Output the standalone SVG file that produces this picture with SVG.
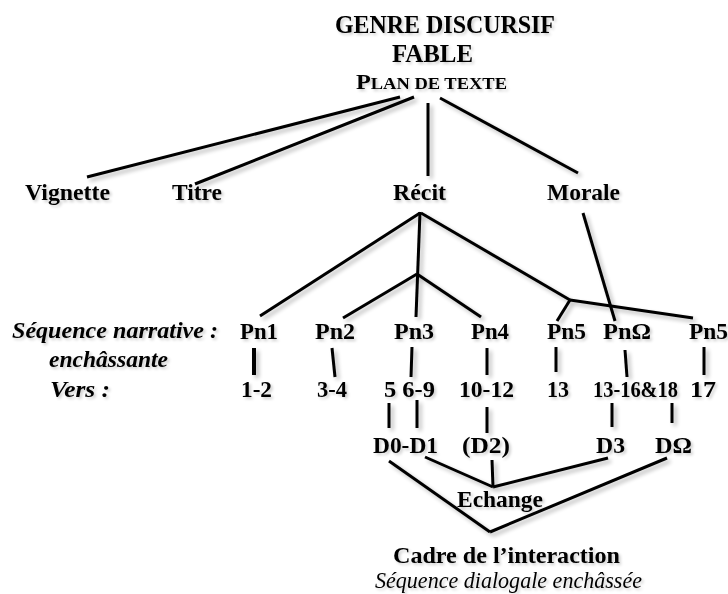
<svg xmlns="http://www.w3.org/2000/svg" width="728" height="594" viewBox="0 0 728 594">
<defs>
<filter id="sh" x="-5%" y="-5%" width="115%" height="115%">
<feGaussianBlur in="SourceAlpha" stdDeviation="2"/>
<feOffset dx="3" dy="3" result="b"/>
<feComponentTransfer><feFuncA type="linear" slope="0.28"/></feComponentTransfer>
<feMerge><feMergeNode/><feMergeNode in="SourceGraphic"/></feMerge>
</filter>
<filter id="tsh" x="-5%" y="-20%" width="115%" height="150%">
<feGaussianBlur in="SourceAlpha" stdDeviation="1.5"/>
<feOffset dx="2" dy="2"/>
<feComponentTransfer><feFuncA type="linear" slope="0.2"/></feComponentTransfer>
<feMerge><feMergeNode/><feMergeNode in="SourceGraphic"/></feMerge>
</filter>
</defs>
<style>
text{font-family:"Liberation Serif","Times New Roman",serif;font-weight:bold;font-size:24px;fill:#000}
.it{font-style:italic}
.itn{font-style:italic;font-weight:normal}
.t{font-size:25px}
#connectors line{stroke:#000;stroke-width:3;fill:none;stroke-linecap:butt}
</style>
<rect width="728" height="594" fill="#fff"/>
<g id="connectors" filter="url(#sh)">
<line x1="400" y1="97" x2="87" y2="177"/>
<line x1="414" y1="97" x2="195" y2="184"/>
<line x1="428" y1="103" x2="428" y2="176"/>
<line x1="440" y1="98" x2="578" y2="173"/>
<line x1="420" y1="212" x2="416" y2="317"/>
<line x1="420" y1="213" x2="260" y2="316"/>
<line x1="421" y1="213" x2="570" y2="300"/>
<line x1="417" y1="274" x2="343" y2="318"/>
<line x1="417" y1="274" x2="481" y2="317"/>
<line x1="570" y1="300" x2="693" y2="318"/>
<line x1="570" y1="300" x2="557" y2="321"/>
<line x1="583" y1="213" x2="615" y2="321"/>
<line x1="254" y1="348" x2="254" y2="375" style="stroke-width:4"/>
<line x1="332" y1="348" x2="335" y2="377"/>
<line x1="412" y1="347" x2="411" y2="377"/>
<line x1="487" y1="348" x2="487" y2="375"/>
<line x1="556" y1="347" x2="556" y2="372"/>
<line x1="625" y1="350" x2="627" y2="377"/>
<line x1="704" y1="347" x2="704" y2="375"/>
<line x1="389" y1="403" x2="389" y2="428"/>
<line x1="417" y1="400" x2="417" y2="428"/>
<line x1="487" y1="407" x2="487" y2="433"/>
<line x1="612" y1="403" x2="612" y2="427"/>
<line x1="672" y1="403" x2="672" y2="423"/>
<line x1="425" y1="457" x2="493" y2="487"/>
<line x1="492" y1="460" x2="493" y2="487"/>
<line x1="608" y1="458" x2="493" y2="487"/>
<line x1="389" y1="461" x2="490" y2="532"/>
<line x1="667" y1="458" x2="490" y2="532"/>
</g>
<g filter="url(#tsh)">
<g id="titre-genre">
<text class="t" x="335" y="33" textLength="220" lengthAdjust="spacingAndGlyphs">GENRE DISCURSIF</text>
<text class="t" x="392" y="62" textLength="81" lengthAdjust="spacingAndGlyphs">FABLE</text>
<text x="356" y="89" textLength="151" lengthAdjust="spacingAndGlyphs"><tspan style="font-size:21px">P</tspan><tspan style="font-size:16px">LAN DE TEXTE</tspan></text>
</g>
<g id="vignette"><text x="25" y="200" textLength="85" lengthAdjust="spacingAndGlyphs">Vignette</text></g>
<g id="titre"><text x="172" y="200" textLength="50" lengthAdjust="spacingAndGlyphs">Titre</text></g>
<g id="recit"><text x="393" y="200" textLength="53" lengthAdjust="spacingAndGlyphs">Récit</text></g>
<g id="morale"><text x="547" y="200" textLength="73" lengthAdjust="spacingAndGlyphs">Morale</text></g>
<g id="labels">
<text class="it" x="12" y="338" textLength="206" lengthAdjust="spacingAndGlyphs">Séquence narrative :</text>
<text class="it" x="49" y="367" textLength="119" lengthAdjust="spacingAndGlyphs">enchâssante</text>
<text class="it" x="50" y="397" textLength="60" lengthAdjust="spacingAndGlyphs">Vers :</text>
</g>
<g id="pn1"><text x="240" y="339" textLength="38" lengthAdjust="spacingAndGlyphs">Pn1</text><text x="241" y="397" textLength="31" lengthAdjust="spacingAndGlyphs">1-2</text></g>
<g id="pn2"><text x="315" y="339" textLength="40" lengthAdjust="spacingAndGlyphs">Pn2</text><text x="317" y="397" textLength="30" lengthAdjust="spacingAndGlyphs">3-4</text></g>
<g id="pn3"><text x="394" y="339" textLength="40" lengthAdjust="spacingAndGlyphs">Pn3</text><text x="384" y="397" textLength="51" lengthAdjust="spacingAndGlyphs">5 6-9</text></g>
<g id="pn4"><text x="471" y="339" textLength="38" lengthAdjust="spacingAndGlyphs">Pn4</text><text x="459" y="397" textLength="55" lengthAdjust="spacingAndGlyphs">10-12</text></g>
<g id="pn5a"><text x="547" y="339" textLength="39" lengthAdjust="spacingAndGlyphs">Pn5</text><text x="547" y="397" textLength="22" lengthAdjust="spacingAndGlyphs">13</text></g>
<g id="pnomega"><text x="603" y="339" textLength="48" lengthAdjust="spacingAndGlyphs">PnΩ</text><text x="593" y="397" textLength="85" lengthAdjust="spacingAndGlyphs">13-16&amp;18</text></g>
<g id="pn5b"><text x="689" y="339" textLength="39" lengthAdjust="spacingAndGlyphs">Pn5</text><text x="690" y="397" textLength="26" lengthAdjust="spacingAndGlyphs">17</text></g>
<g id="d0d1"><text x="373" y="453" textLength="65" lengthAdjust="spacingAndGlyphs">D0-D1</text></g>
<g id="d2"><text x="462" y="453" textLength="48" lengthAdjust="spacingAndGlyphs">(D2)</text></g>
<g id="d3"><text x="596" y="453" textLength="29" lengthAdjust="spacingAndGlyphs">D3</text></g>
<g id="domega"><text x="655" y="453" textLength="37" lengthAdjust="spacingAndGlyphs">DΩ</text></g>
<g id="echange"><text x="457" y="507" textLength="86" lengthAdjust="spacingAndGlyphs">Echange</text></g>
<g id="cadre">
<text x="393" y="563" textLength="227" lengthAdjust="spacingAndGlyphs">Cadre de l’interaction</text>
<text class="itn" x="375" y="588" textLength="267" lengthAdjust="spacingAndGlyphs">Séquence dialogale enchâssée</text>
</g>
</g>
</svg>
